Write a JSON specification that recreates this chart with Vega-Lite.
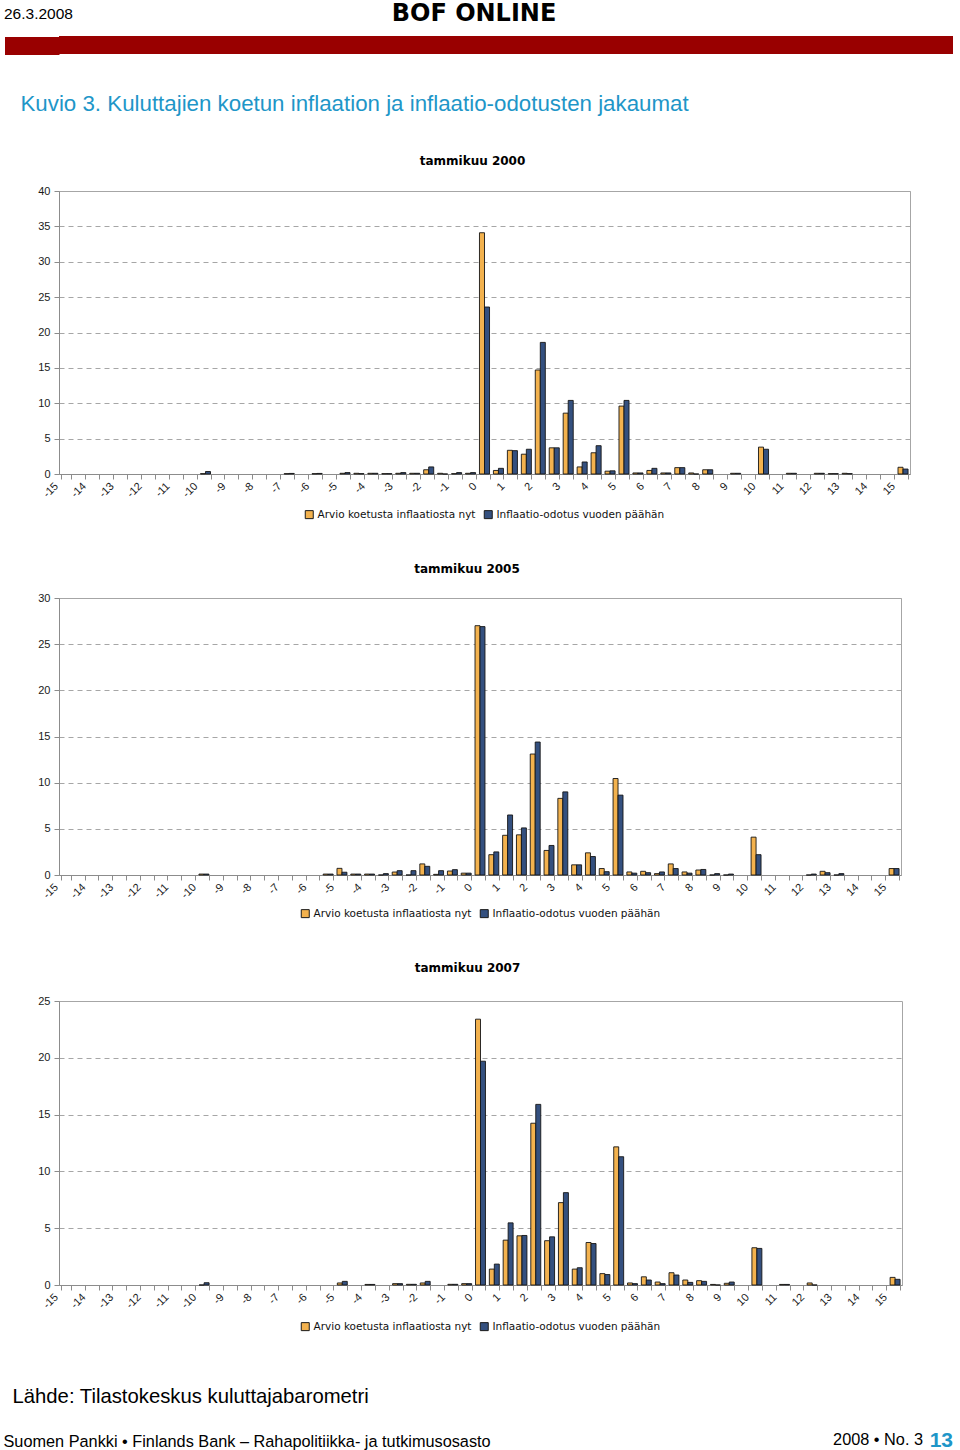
{
  "$schema": "https://vega.github.io/schema/vega-lite/v6.json",
  "background": "white",
  "padding": {"left": 2, "top": 2, "right": 4, "bottom": 0},
  "config": {
    "font": "Liberation Sans",
    "view": {"stroke": "#a6a6a6", "strokeWidth": 1},
    "concat": {"spacing": 0},
    "axis": {"labelFont": "Liberation Sans", "labelFontSize": 11, "labelColor": "#1a1a1a", "domainColor": "#8c8c8c", "tickColor": "#8c8c8c", "tickSize": 5},
    "axisX": {"labelAngle": -45, "tickBand": "extent", "grid": false, "labelOverlap": false, "labelPadding": 1, "labelOffset": -14},
    "axisY": {"gridDash": [5, 4], "gridColor": "#a6a6a6", "labelPadding": 4, "minExtent": 56},
    "legend": {"orient": "bottom", "direction": "horizontal", "symbolType": "square", "symbolSize": 64, "symbolStrokeColor": "#1a1a1a", "symbolStrokeWidth": 1, "labelFont": "DejaVu Sans", "labelFontSize": 10.5, "labelLimit": 400, "labelColor": "#111111", "labelOffset": 3, "columnPadding": 6, "offset": 9, "padding": 0, "layout": {"bottom": {"anchor": "middle"}}},
    "title": {"font": "Liberation Sans", "color": "#000000"}
  },
  "datasets": {
    "d2000": [
      {"v": -10, "nyt": 0.05, "odotus": 0.35},
      {"v": -7, "nyt": 0.05, "odotus": 0.08},
      {"v": -6, "nyt": 0.05, "odotus": 0.08},
      {"v": -5, "nyt": 0.1, "odotus": 0.2},
      {"v": -4.5, "nyt": 0.1, "odotus": 0.05},
      {"v": -4, "nyt": 0.1, "odotus": 0.1},
      {"v": -3.5, "nyt": 0.05, "odotus": 0.05},
      {"v": -3, "nyt": 0.1, "odotus": 0.2},
      {"v": -2.5, "nyt": 0.1, "odotus": 0.1},
      {"v": -2, "nyt": 0.6, "odotus": 1.0},
      {"v": -1.5, "nyt": 0.1, "odotus": 0},
      {"v": -1, "nyt": 0.05, "odotus": 0.2},
      {"v": -0.5, "nyt": 0.1, "odotus": 0.2},
      {"v": 0, "nyt": 34.1, "odotus": 23.6},
      {"v": 0.5, "nyt": 0.5, "odotus": 0.8},
      {"v": 1, "nyt": 3.35, "odotus": 3.3},
      {"v": 1.5, "nyt": 2.8, "odotus": 3.5},
      {"v": 2, "nyt": 14.7, "odotus": 18.6},
      {"v": 2.5, "nyt": 3.7, "odotus": 3.7},
      {"v": 3, "nyt": 8.6, "odotus": 10.4},
      {"v": 3.5, "nyt": 1.0, "odotus": 1.7},
      {"v": 4, "nyt": 3.0, "odotus": 4.0},
      {"v": 4.5, "nyt": 0.4, "odotus": 0.45},
      {"v": 5, "nyt": 9.6, "odotus": 10.4},
      {"v": 5.5, "nyt": 0.15, "odotus": 0.15},
      {"v": 6, "nyt": 0.5, "odotus": 0.8},
      {"v": 6.5, "nyt": 0.15, "odotus": 0.15},
      {"v": 7, "nyt": 0.9, "odotus": 0.9},
      {"v": 7.5, "nyt": 0.15, "odotus": 0},
      {"v": 8, "nyt": 0.6, "odotus": 0.6},
      {"v": 9, "nyt": 0.1, "odotus": 0.1},
      {"v": 10, "nyt": 3.8, "odotus": 3.5},
      {"v": 11, "nyt": 0.1, "odotus": 0.1},
      {"v": 12, "nyt": 0.1, "odotus": 0.1},
      {"v": 12.5, "nyt": 0.05, "odotus": 0.05},
      {"v": 13, "nyt": 0.1, "odotus": 0.05},
      {"v": 15, "nyt": 0.95, "odotus": 0.7}
    ],
    "d2005": [
      {"v": -10, "nyt": 0.1, "odotus": 0.1},
      {"v": -5.5, "nyt": 0.1, "odotus": 0.1},
      {"v": -5, "nyt": 0.72, "odotus": 0.3},
      {"v": -4.5, "nyt": 0.1, "odotus": 0.1},
      {"v": -4, "nyt": 0.1, "odotus": 0.1},
      {"v": -3.5, "nyt": 0, "odotus": 0.15},
      {"v": -3, "nyt": 0.32, "odotus": 0.47},
      {"v": -2.5, "nyt": 0, "odotus": 0.47},
      {"v": -2, "nyt": 1.2, "odotus": 0.94},
      {"v": -1.5, "nyt": 0.07, "odotus": 0.47},
      {"v": -1, "nyt": 0.43, "odotus": 0.58},
      {"v": -0.5, "nyt": 0.2, "odotus": 0.2},
      {"v": 0, "nyt": 27.0, "odotus": 26.9},
      {"v": 0.5, "nyt": 2.2, "odotus": 2.5},
      {"v": 1, "nyt": 4.3, "odotus": 6.5},
      {"v": 1.5, "nyt": 4.35, "odotus": 5.1},
      {"v": 2, "nyt": 13.1, "odotus": 14.4},
      {"v": 2.5, "nyt": 2.66, "odotus": 3.2},
      {"v": 3, "nyt": 8.3, "odotus": 9.0},
      {"v": 3.5, "nyt": 1.1, "odotus": 1.1},
      {"v": 4, "nyt": 2.4, "odotus": 2.0},
      {"v": 4.5, "nyt": 0.7, "odotus": 0.36},
      {"v": 5, "nyt": 10.45, "odotus": 8.65},
      {"v": 5.5, "nyt": 0.33, "odotus": 0.2},
      {"v": 6, "nyt": 0.4, "odotus": 0.25},
      {"v": 6.5, "nyt": 0.15, "odotus": 0.33},
      {"v": 7, "nyt": 1.2, "odotus": 0.7},
      {"v": 7.5, "nyt": 0.33, "odotus": 0.2},
      {"v": 8, "nyt": 0.54, "odotus": 0.6},
      {"v": 8.5, "nyt": 0, "odotus": 0.15},
      {"v": 9, "nyt": 0, "odotus": 0.1},
      {"v": 10, "nyt": 4.1, "odotus": 2.2},
      {"v": 12, "nyt": 0, "odotus": 0.1},
      {"v": 12.5, "nyt": 0.4, "odotus": 0.25},
      {"v": 13, "nyt": 0, "odotus": 0.15},
      {"v": 15, "nyt": 0.7, "odotus": 0.7}
    ],
    "d2007": [
      {"v": -10, "nyt": 0, "odotus": 0.2},
      {"v": -5, "nyt": 0.18, "odotus": 0.32},
      {"v": -4, "nyt": 0.05, "odotus": 0.05},
      {"v": -3, "nyt": 0.12, "odotus": 0.12},
      {"v": -2.5, "nyt": 0.06, "odotus": 0.06},
      {"v": -2, "nyt": 0.18, "odotus": 0.32},
      {"v": -1, "nyt": 0.06, "odotus": 0.06},
      {"v": -0.5, "nyt": 0.12, "odotus": 0.12},
      {"v": 0, "nyt": 23.4, "odotus": 19.7},
      {"v": 0.5, "nyt": 1.4, "odotus": 1.84},
      {"v": 1, "nyt": 3.95, "odotus": 5.47},
      {"v": 1.5, "nyt": 4.33, "odotus": 4.36},
      {"v": 2, "nyt": 14.24, "odotus": 15.9},
      {"v": 2.5, "nyt": 3.9, "odotus": 4.24},
      {"v": 3, "nyt": 7.25, "odotus": 8.13},
      {"v": 3.5, "nyt": 1.4, "odotus": 1.52},
      {"v": 4, "nyt": 3.74, "odotus": 3.65},
      {"v": 4.5, "nyt": 1.0, "odotus": 0.92},
      {"v": 5, "nyt": 12.16, "odotus": 11.29},
      {"v": 5.5, "nyt": 0.18, "odotus": 0.12},
      {"v": 6, "nyt": 0.72, "odotus": 0.44},
      {"v": 6.5, "nyt": 0.26, "odotus": 0.12},
      {"v": 7, "nyt": 1.08, "odotus": 0.88},
      {"v": 7.5, "nyt": 0.44, "odotus": 0.23},
      {"v": 8, "nyt": 0.38, "odotus": 0.32},
      {"v": 8.5, "nyt": 0.05, "odotus": 0},
      {"v": 9, "nyt": 0.15, "odotus": 0.26},
      {"v": 10, "nyt": 3.28, "odotus": 3.22},
      {"v": 11, "nyt": 0.05, "odotus": 0.05},
      {"v": 12, "nyt": 0.18, "odotus": 0},
      {"v": 15, "nyt": 0.67, "odotus": 0.5}
    ]
  },
  "title": {"text": "13", "orient": "bottom", "anchor": "end", "fontSize": 21, "fontWeight": "bold", "color": "#1E96C8", "offset": -20},
  "vconcat": [
    {
      "title": {"text": "2008 • No. 3", "orient": "bottom", "anchor": "end", "dx": -30, "fontSize": 16.3, "fontWeight": "normal", "offset": -18},
      "vconcat": [
        {
          "title": {"text": "Suomen Pankki • Finlands Bank – Rahapolitiikka- ja tutkimusosasto", "orient": "bottom", "anchor": "start", "dx": 1, "fontSize": 16.3, "fontWeight": "normal", "offset": 27},
          "spacing": 38,
          "vconcat": [
            {
              "title": {"text": "26.3.2008", "anchor": "start", "dx": 1, "fontSize": 15.5, "fontWeight": "normal", "offset": -20},
              "vconcat": [
                {
                  "width": 894,
                  "height": 18,
                  "title": {"text": "BOF ONLINE", "font": "DejaVu Sans", "fontSize": 24, "fontWeight": "bold", "offset": 10, "dx": -32},
                  "view": {"fill": "#990000", "stroke": null},
                  "data": {"values": []},
                  "mark": "point",
                  "encoding": {
                    "y": {"field": "a", "type": "quantitative", "title": null, "scale": {"domain": [0, 18]},
                      "axis": {"values": [1.5, 3.5, 5.5, 7.5, 9.5, 11.5, 13.5, 16.5], "tickSize": 54.5, "tickWidth": 3, "tickColor": "#990000", "labels": false, "domain": false, "grid": false, "minExtent": 0}}
                  }
                }
              ]
            },
            {
              "title": {"text": "Lähde: Tilastokeskus kuluttajabarometri", "orient": "bottom", "anchor": "start", "dx": 10, "fontSize": 20.3, "fontWeight": "normal", "offset": 53},
              "vconcat": [
                {
                  "title": {"text": "Kuvio 3. Kuluttajien koetun inflaation ja inflaatio-odotusten jakaumat", "anchor": "start", "dx": 18, "fontSize": 22.3, "fontWeight": "normal", "color": "#1E96C8", "offset": 39},
                  "spacing": 40,
                  "resolve": {"scale": {"x": "independent", "y": "independent", "color": "independent", "xOffset": "independent"}, "axis": {"x": "independent", "y": "independent"}, "legend": {"color": "independent"}},
                  "vconcat": [
                    {
                      "width": 851,
                      "height": 283,
                      "title": {"text": "tammikuu 2000", "font": "DejaVu Sans", "fontSize": 12, "fontWeight": "bold", "frame": "group", "dx": -12, "offset": 17},
                      "data": {"name": "d2000"},
                      "transform": [{"fold": ["nyt", "odotus"], "as": ["s", "p"]}],
                      "mark": {"type": "bar", "stroke": "#151515", "strokeWidth": 0.9},
                      "encoding": {
                        "x": {"field": "v", "type": "ordinal", "title": null,
                          "scale": {"domain": [-15,-14.5,-14,-13.5,-13,-12.5,-12,-11.5,-11,-10.5,-10,-9.5,-9,-8.5,-8,-7.5,-7,-6.5,-6,-5.5,-5,-4.5,-4,-3.5,-3,-2.5,-2,-1.5,-1,-0.5,0,0.5,1,1.5,2,2.5,3,3.5,4,4.5,5,5.5,6,6.5,7,7.5,8,8.5,9,9.5,10,10.5,11,11.5,12,12.5,13,13.5,14,14.5,15], "paddingInner": 0.28, "paddingOuter": 0.14},
                          "axis": {"labelExpr": "datum.value % 1 === 0 ? '' + datum.value : ''"}},
                        "xOffset": {"field": "s", "type": "nominal", "scale": {"domain": ["nyt", "odotus"]}},
                        "y": {"field": "p", "type": "quantitative", "title": null, "scale": {"domain": [0, 40]}, "axis": {"values": [0, 5, 10, 15, 20, 25, 30, 35, 40]}},
                        "color": {"field": "s", "type": "nominal", "scale": {"domain": ["nyt", "odotus"], "range": ["#F3B24E", "#34507F"]},
                          "legend": {"title": null, "offset": 9, "labelExpr": "datum.value === 'nyt' ? 'Arvio koetusta inflaatiosta nyt' : 'Inflaatio-odotus vuoden päähän'"}}
                      }
                    },
                    {
                      "width": 842,
                      "height": 277,
                      "title": {"text": "tammikuu 2005", "font": "DejaVu Sans", "fontSize": 12, "fontWeight": "bold", "frame": "group", "dx": -13, "offset": 16},
                      "data": {"name": "d2005"},
                      "transform": [{"fold": ["nyt", "odotus"], "as": ["s", "p"]}],
                      "mark": {"type": "bar", "stroke": "#151515", "strokeWidth": 0.9},
                      "encoding": {
                        "x": {"field": "v", "type": "ordinal", "title": null,
                          "scale": {"domain": [-15,-14.5,-14,-13.5,-13,-12.5,-12,-11.5,-11,-10.5,-10,-9.5,-9,-8.5,-8,-7.5,-7,-6.5,-6,-5.5,-5,-4.5,-4,-3.5,-3,-2.5,-2,-1.5,-1,-0.5,0,0.5,1,1.5,2,2.5,3,3.5,4,4.5,5,5.5,6,6.5,7,7.5,8,8.5,9,9.5,10,10.5,11,11.5,12,12.5,13,13.5,14,14.5,15], "paddingInner": 0.28, "paddingOuter": 0.14},
                          "axis": {"labelExpr": "datum.value % 1 === 0 ? '' + datum.value : ''"}},
                        "xOffset": {"field": "s", "type": "nominal", "scale": {"domain": ["nyt", "odotus"]}},
                        "y": {"field": "p", "type": "quantitative", "title": null, "scale": {"domain": [0, 30]}, "axis": {"values": [0, 5, 10, 15, 20, 25, 30]}},
                        "color": {"field": "s", "type": "nominal", "scale": {"domain": ["nyt", "odotus"], "range": ["#F3B24E", "#34507F"]},
                          "legend": {"title": null, "offset": 7, "labelExpr": "datum.value === 'nyt' ? 'Arvio koetusta inflaatiosta nyt' : 'Inflaatio-odotus vuoden päähän'"}}
                      }
                    },
                    {
                      "width": 843,
                      "height": 284,
                      "title": {"text": "tammikuu 2007", "font": "DejaVu Sans", "fontSize": 12, "fontWeight": "bold", "frame": "group", "dx": -13, "offset": 20},
                      "data": {"name": "d2007"},
                      "transform": [{"fold": ["nyt", "odotus"], "as": ["s", "p"]}],
                      "mark": {"type": "bar", "stroke": "#151515", "strokeWidth": 0.9},
                      "encoding": {
                        "x": {"field": "v", "type": "ordinal", "title": null,
                          "scale": {"domain": [-15,-14.5,-14,-13.5,-13,-12.5,-12,-11.5,-11,-10.5,-10,-9.5,-9,-8.5,-8,-7.5,-7,-6.5,-6,-5.5,-5,-4.5,-4,-3.5,-3,-2.5,-2,-1.5,-1,-0.5,0,0.5,1,1.5,2,2.5,3,3.5,4,4.5,5,5.5,6,6.5,7,7.5,8,8.5,9,9.5,10,10.5,11,11.5,12,12.5,13,13.5,14,14.5,15], "paddingInner": 0.28, "paddingOuter": 0.14},
                          "axis": {"labelExpr": "datum.value % 1 === 0 ? '' + datum.value : ''"}},
                        "xOffset": {"field": "s", "type": "nominal", "scale": {"domain": ["nyt", "odotus"]}},
                        "y": {"field": "p", "type": "quantitative", "title": null, "scale": {"domain": [0, 25]}, "axis": {"values": [0, 5, 10, 15, 20, 25]}},
                        "color": {"field": "s", "type": "nominal", "scale": {"domain": ["nyt", "odotus"], "range": ["#F3B24E", "#34507F"]},
                          "legend": {"title": null, "offset": 10, "labelExpr": "datum.value === 'nyt' ? 'Arvio koetusta inflaatiosta nyt' : 'Inflaatio-odotus vuoden päähän'"}}
                      }
                    }
                  ]
                }
              ]
            }
          ]
        }
      ]
    }
  ]
}
